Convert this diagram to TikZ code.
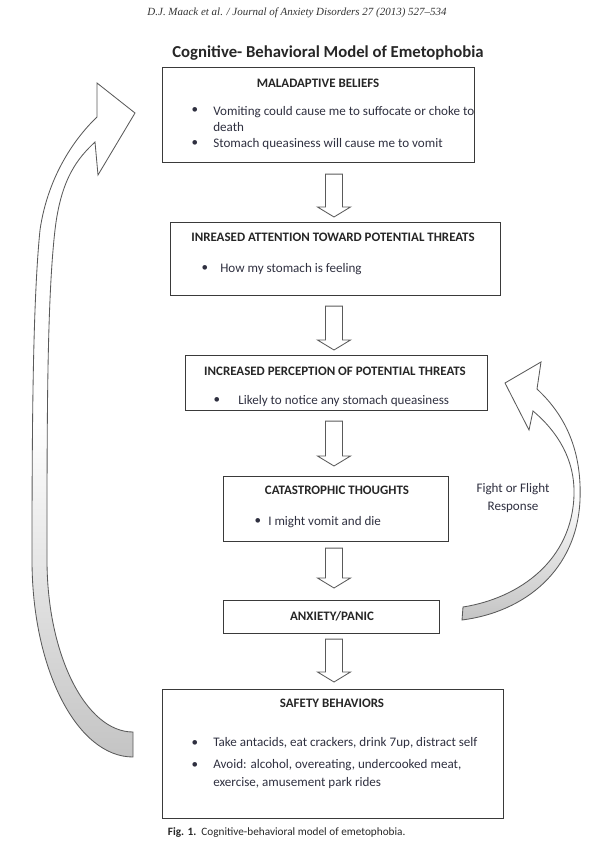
\documentclass[tikz,border=0pt]{standalone}
\usepackage{fontspec}
\setmainfont{Carlito}
\newfontfamily\journalfont{Liberation Serif}
\usetikzlibrary{calc}

\definecolor{boxline}{HTML}{3A3A3A}
\definecolor{arrowline}{HTML}{5A5A5A}
\definecolor{bodytext}{HTML}{2F3040}
\definecolor{tailgray}{HTML}{C4C4C4}

\def\u{0.025cm}

\tikzset{
    box/.style={draw=boxline, line width=0.8pt, inner sep=0pt, anchor=north west},
    boxtitle/.style={font=\fontsize{9.2}{11}\selectfont\bfseries, text=black!85, inner sep=0pt},
    itemtext/.style={font=\fontsize{9.3}{11.3}\selectfont, text=bodytext, inner sep=0pt, anchor=west, align=left},
    dot/.style={font=\fontsize{9.3}{11.3}\selectfont, text=bodytext, inner sep=0pt},
    blockarrow/.style={draw=arrowline, line width=0.6pt, fill=white, line join=miter,
        to path={($(\tikztostart)+(-8.5,0)$) -- ($(\tikztotarget)+(-8.5,-10)$)
            -- ($(\tikztotarget)+(-16.5,-10)$) -- (\tikztotarget)
            -- ($(\tikztotarget)+(16.5,-10)$) -- ($(\tikztotarget)+(8.5,-10)$)
            -- ($(\tikztostart)+(8.5,0)$) -- cycle}},
    curvearrow/.style={draw=arrowline, line width=0.6pt, line join=miter,
        top color=white, bottom color=tailgray, middle color=white},
}

\begin{document}
\begin{tikzpicture}[x=0.025cm, y=-0.025cm]
    \path[use as bounding box] (0,0) rectangle (600,855);

    % header and title
    \node[font=\fontsize{7.8}{9}\selectfont\journalfont\itshape, text=black!80] (journal) at (297,13)
        {D.J. Maack et al. / Journal of Anxiety Disorders 27 (2013) 527–534};
    \node[font=\fontsize{11.9}{14}\selectfont\bfseries, text=black!85] (title) at (328,53)
        {Cognitive- Behavioral Model of Emetophobia};

    % boxes
    \node[box, minimum width=312*\u, minimum height=95*\u] (m1) at (162,67) {};
    \node[box, minimum width=330*\u, minimum height=73*\u] (m2) at (170,222) {};
    \node[box, minimum width=302*\u, minimum height=55*\u] (m3) at (185,355) {};
    \node[box, minimum width=225*\u, minimum height=65*\u] (m4) at (223,476) {};
    \node[box, minimum width=216*\u, minimum height=33*\u] (m5) at (223,600) {};
    \node[box, minimum width=341*\u, minimum height=129*\u] (m6) at (162,689) {};

    % box texts
    \node[boxtitle] (m1h) at (318,83) {MALADAPTIVE BELIEFS};
    \node[dot] (m1d1) at (195,111) {•};
    \node[itemtext] (m1t1) at (213,119) {Vomiting could cause me to suffocate or choke to\\death};
    \node[dot] (m1d2) at (195,144) {•};
    \node[itemtext] (m1t2) at (213,144) {Stomach queasiness will cause me to vomit};

    \node[boxtitle] (m2h) at (333,237) {INREASED ATTENTION TOWARD POTENTIAL THREATS};
    \node[dot] (m2d1) at (205,269) {•};
    \node[itemtext] (m2t1) at (220,269) {How my stomach is feeling};

    \node[boxtitle] (m3h) at (335,371) {INCREASED PERCEPTION OF POTENTIAL THREATS};
    \node[dot] (m3d1) at (217,401) {•};
    \node[itemtext] (m3t1) at (238,401) {Likely to notice any stomach queasiness};

    \node[boxtitle] (m4h) at (337,490) {CATASTROPHIC THOUGHTS};
    \node[dot] (m4d1) at (258,522) {•};
    \node[itemtext] (m4t1) at (268,522) {I might vomit and die};

    \node[boxtitle] (m5h) at (332,616) {ANXIETY/PANIC};

    \node[boxtitle] (m6h) at (332,703) {SAFETY BEHAVIORS};
    \node[dot] (m6d1) at (195,743) {•};
    \node[itemtext] (m6t1) at (213,743) {Take antacids, eat crackers, drink 7up, distract self};
    \node[dot] (m6d2) at (195,765) {•};
    \node[itemtext, font=\fontsize{9.3}{12.8}\selectfont] (m6t2) at (213,774)
        {Avoid: alcohol, overeating, undercooked meat,\\exercise, amusement park rides};

    \node[font=\fontsize{9.3}{12.8}\selectfont, text=bodytext, align=center] (fight) at (513,498)
        {Fight or Flight\\Response};

    % block arrows between the boxes
    \coordinate (ax) at (334,0);
    \coordinate (a1t) at ($(m1.south -| ax)+(0,11)$);
    \coordinate (a1b) at ($(m2.north -| ax)+(0,-5)$);
    \coordinate (a2t) at ($(m2.south -| ax)+(0,10)$);
    \coordinate (a2b) at ($(m3.north -| ax)+(0,-5)$);
    \coordinate (a3t) at ($(m3.south -| ax)+(0,10)$);
    \coordinate (a3b) at ($(m4.north -| ax)+(0,-10)$);
    \coordinate (a4t) at ($(m4.south -| ax)+(0,6)$);
    \coordinate (a4b) at ($(m5.north -| ax)+(0,-12)$);
    \coordinate (a5t) at ($(m5.south -| ax)+(0,5)$);
    \coordinate (a5b) at ($(m6.north -| ax)+(0,-7)$);
    \draw[blockarrow] (a1t) to (a1b);
    \draw[blockarrow] (a2t) to (a2b);
    \draw[blockarrow] (a3t) to (a3b);
    \draw[blockarrow] (a4t) to (a4b);
    \draw[blockarrow] (a5t) to (a5b);

    % big curved arrow, safety behaviors back to beliefs
    \path[curvearrow] (133,732) .. controls (86,732) and (47,655) .. (47,560)
        .. controls (47,420) and (47,300) .. (55,230)
        .. controls (61,178) and (78,158) .. (95,142)
        -- (98,175) -- (135,113) -- (97,83) -- (97,117)
        .. controls (76,137) and (48,175) .. (40,230)
        .. controls (33,300) and (32,420) .. (32,560)
        .. controls (32,669) and (77,757) .. (133,757) -- cycle;

    % fight or flight arrow, panic back to perception
    \path[curvearrow] (463,607) .. controls (520,598) and (572,560) .. (574,495)
        .. controls (575,460) and (558,432) .. (533,411)
        -- (529,430) -- (505,383) -- (541,362) -- (537,389)
        .. controls (565,415) and (582,450) .. (580,500)
        .. controls (577,570) and (525,612) .. (462,620) -- cycle;

    % caption
    \node[font=\fontsize{8}{10}\selectfont, anchor=west, text=black!85] (caption) at (163,833)
        {\textbf{Fig. 1.}\ \ Cognitive-behavioral model of emetophobia.};
\end{tikzpicture}
\end{document}
